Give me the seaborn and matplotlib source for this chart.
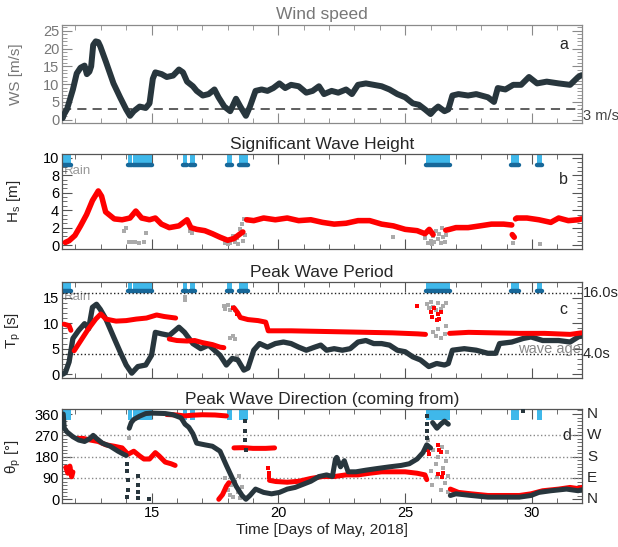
import numpy as np
import pandas as pd
import matplotlib
matplotlib.use("Agg")
import matplotlib.pyplot as plt
from matplotlib.ticker import MultipleLocator, FixedLocator, NullFormatter
import seaborn as sns

# ---------------- data (day of May 2018, value); None = gap ----------------
ws_points = [(11.5, 0.5), (11.55, 1.5), (11.67, 3.0), (11.9, 8.5), (12.05, 13), (12.2, 14.6),
             (12.36, 15.2), (12.45, 12.8), (12.55, 13.5), (12.62, 15), (12.7, 21), (12.8, 22),
             (12.9, 21.8), (12.98, 20.6), (13.2, 16.3), (13.5, 10.2), (13.76, 6.3), (14.0, 2.9),
             (14.15, 1.1), (14.3, 2.4), (14.53, 3.7), (14.77, 3.3), (14.92, 4.6), (15.05, 11.5),
             (15.15, 13.3), (15.4, 12.8), (15.6, 12), (15.85, 12.4), (16.08, 14.1), (16.24, 13.3),
             (16.4, 10.7), (16.63, 9.4), (16.78, 8.1), (17.02, 6.8), (17.25, 7.2), (17.48, 8.5),
             (17.64, 6.3), (17.87, 3.7), (18.1, 2.4), (18.33, 5.9), (18.5, 3.7), (18.72, 1.1),
             (18.88, 3.7), (19.1, 8.1), (19.34, 8.5), (19.57, 8.1), (19.8, 8.9), (20.04, 10.2),
             (20.27, 8.9), (20.5, 9.8), (20.8, 9.4), (21.1, 7.6), (21.35, 8.1), (21.6, 9.4),
             (21.8, 7.2), (22.1, 8.1), (22.36, 7.6), (22.67, 8.5), (22.9, 7.2), (23.14, 9.8),
             (23.45, 10.2), (23.76, 9.8), (24.07, 9.4), (24.38, 8.5), (24.69, 7.2), (25.0, 6.3),
             (25.3, 4.6), (25.54, 4.2), (25.78, 2.9), (26.0, 1.6), (26.16, 2.9), (26.3, 3.7),
             (26.55, 2.4), (26.7, 2.9), (26.86, 6.8), (27.1, 7.2), (27.48, 6.8), (27.8, 7.2),
             (28.26, 6.3), (28.5, 5.0), (28.65, 8.9), (28.95, 8.5), (29.26, 9.8), (29.57, 9.8),
             (29.88, 12.0), (30.2, 10.2), (30.58, 10.7), (31.05, 10.2), (31.5, 9.8), (31.82, 12.0),
             (31.95, 12.5)]

hs_points = [(11.6, 0.3), (11.75, 0.5), (11.98, 1.1), (12.2, 2.2), (12.44, 3.5), (12.67, 5.1),
             (12.9, 6.2), (13.03, 5.6), (13.19, 3.8), (13.53, 3.0), (13.84, 2.9), (14.15, 3.1),
             (14.38, 3.9), (14.61, 3.1), (14.92, 2.9), (15.15, 3.1), (15.39, 2.4), (15.7, 2.0),
             (16.08, 2.2), (16.4, 2.9), (16.55, 2.0), (16.78, 1.8), (17.1, 1.65), (17.4, 1.3),
             (17.7, 0.9), (18.0, 0.55), (18.25, 0.75), (18.5, 1.3), (18.6, 1.5), None,
             (18.75, 2.9), (19.03, 2.8), (19.42, 3.1), (19.88, 2.9), (20.35, 3.1), (20.8, 2.8),
             (21.28, 2.9), (21.74, 2.6), (22.2, 2.4), (22.67, 2.5), (23.14, 2.8), (23.6, 2.8),
             (24.07, 2.4), (24.53, 2.2), (25.0, 1.8), (25.47, 1.65), (25.78, 1.3), (25.95, 1.8),
             (26.1, 1.2), None, (26.6, 1.7), (26.75, 1.8), (27.0, 2.0), (27.48, 2.0), (27.95, 2.2),
             (28.4, 2.4), (28.88, 2.4), (29.2, 2.3), None, (29.22, 1.2), (29.3, 0.9), None,
             (29.35, 3.0), (29.4, 3.1), (29.8, 3.1), (30.27, 2.9), (30.74, 2.6), (31.05, 3.1),
             (31.43, 2.8), (31.82, 2.9), (31.95, 3.0)]

hs_flagged = [(13.9, 1.6), (14.0, 1.9), (14.1, 0.4), (14.2, 0.3), (14.35, 0.3), (14.5, 0.25),
              (14.7, 0.3), (14.8, 1.4), (16.5, 1.6), (16.6, 1.4), (17.9, 0.2), (17.95, 0.5),
              (18.0, 0.1), (18.05, 0.6), (18.1, 0.2), (18.2, 1.0), (18.3, 0.3), (18.35, 0.8),
              (18.4, 0.1), (18.5, 1.8), (18.55, 2.4), (18.6, 0.5), (18.65, 3.0), (18.7, 1.2),
              (25.8, 0.8), (25.9, 0.2), (25.95, 1.5), (26.0, 0.5), (26.05, 0.1), (26.1, 1.0),
              (26.15, 0.3), (26.2, 1.6), (26.3, 0.7), (26.35, 1.3), (26.4, 0.2), (26.45, 1.9),
              (26.5, 0.9), (26.55, 0.4), (26.6, 1.1), (29.25, 0.2), (30.3, 0.1), (24.5, 0.9)]

tp_points = [(11.55, 9.8), (11.75, 9.5), (11.82, 8.6), None,
             (11.95, 4.6), (12.2, 6.5), (12.5, 8.8), (12.8, 10.8), (13.0, 11.8), (13.2, 10.8),
             (13.6, 10.4), (14.0, 10.5), (14.4, 10.8), (14.8, 11.0), (15.0, 11.3), (15.2, 11.6),
             (15.5, 11.3), (15.8, 11.1), (15.95, 11.0), None,
             (15.7, 6.9), (16.0, 6.6), (16.4, 6.5), (16.7, 6.6), (17.0, 6.2), (17.4, 5.8),
             (17.7, 5.3), (17.85, 5.2), None,
             (18.25, 13.0), (18.4, 12.0), (18.5, 11.1), (18.8, 10.7), (19.2, 10.5), (19.5, 10.2),
             (19.6, 8.5), (19.9, 8.5), (20.5, 8.5), (21.5, 8.4), (22.5, 8.3), (23.5, 8.2),
             (24.5, 8.1), (25.5, 7.9), (25.8, 7.8), None,
             (26.75, 8.0), (27.5, 8.2), (28.5, 8.1), (29.5, 8.0), (30.5, 8.0), (31.5, 7.8),
             (31.95, 8.1)]

tp_red_scatter = [(25.45, 13.4), (26.0, 12.1), (26.05, 11.3), (26.15, 12.9), (26.25, 10.6),
                  (26.3, 11.8), (26.35, 10.8), (26.4, 12.2), (18.35, 11.8), (18.2, 13.0)]

tp_flagged = [(16.3, 15.2), (16.32, 14.6), (17.85, 13.4), (17.9, 12.8), (18.0, 13.6), (18.1, 12.5),
              (18.2, 13.1), (18.3, 12.6), (18.1, 7.0), (18.2, 7.4), (18.3, 6.8), (18.35, 3.5),
              (25.85, 13.8), (25.95, 12.9), (26.0, 14.2), (26.1, 13.2), (26.2, 12.6), (26.3, 13.9),
              (26.4, 12.8), (26.5, 13.4), (26.6, 14.0), (26.1, 8.2), (26.2, 7.4), (26.3, 8.8),
              (26.4, 7.0), (26.55, 7.8), (26.6, 9.5)]

tp_waveage = [(11.5, 0.0), (11.6, 0.3), (11.75, 2.4), (11.9, 7.0), (12.13, 8.6), (12.36, 9.9),
              (12.52, 8.9), (12.67, 13.1), (12.83, 13.7), (12.98, 12.7), (13.2, 10.8), (13.53, 7.0),
              (13.76, 4.4), (14.0, 1.8), (14.22, 0.2), (14.46, 1.5), (14.77, 1.8), (15.0, 3.7),
              (15.15, 8.2), (15.4, 7.9), (15.7, 7.6), (16.08, 9.2), (16.3, 8.2), (16.63, 6.0),
              (16.94, 5.0), (17.25, 5.7), (17.48, 4.7), (17.7, 3.7), (17.95, 1.8), (18.18, 3.1),
              (18.4, 2.8), (18.64, 0.8), (18.8, 1.2), (19.03, 4.7), (19.26, 6.0), (19.57, 5.3),
              (19.88, 6.0), (20.2, 6.3), (20.5, 6.0), (20.8, 5.3), (21.1, 4.7), (21.43, 5.3),
              (21.67, 5.7), (21.9, 4.7), (22.2, 5.0), (22.52, 4.7), (22.83, 5.0), (23.14, 6.3),
              (23.45, 6.6), (23.76, 6.0), (24.07, 6.0), (24.38, 5.7), (24.69, 4.7), (25.0, 4.4),
              (25.3, 3.4), (25.6, 2.8), (25.93, 1.5), (26.24, 2.1), (26.55, 1.8), (26.7, 2.1),
              (26.86, 4.7), (27.33, 5.0), (27.8, 4.7), (28.26, 4.1), (28.57, 4.1), (28.72, 6.0),
              (29.2, 6.3), (29.65, 7.0), (29.96, 7.3), (30.42, 6.6), (31.05, 6.6), (31.5, 6.3),
              (31.82, 7.3), (31.95, 7.5)]

dir_wind = [(11.52, 360), (11.56, 300), (11.67, 284), (11.9, 264), (12.13, 250), (12.36, 244),
            (12.55, 255), (12.7, 270), (12.83, 257), (13.06, 237), (13.37, 224), (13.68, 203),
            (13.9, 190), (14.0, 185), None,
            (14.12, 300), (14.2, 324), (14.3, 337), (14.53, 351), (14.77, 362), (15.0, 364),
            (15.55, 362), (15.85, 357), (16.16, 344), (16.24, 331), (16.32, 317), (16.47, 304),
            (16.63, 277), (16.78, 237), (17.1, 230), (17.4, 224), (17.7, 203), (17.95, 143),
            (18.18, 90), (18.33, 56), (18.57, 16), (18.72, 0), (18.88, 16), (19.1, 43),
            (19.42, 29), (19.73, 23), (20.04, 29), (20.35, 43), (20.66, 50), (20.97, 63),
            (21.28, 76), (21.6, 96), (21.9, 103), (22.13, 96), (22.25, 170), (22.3, 177),
            (22.45, 137), (22.6, 163), (22.75, 116), (23.06, 116), (23.45, 123), (23.9, 130),
            (24.38, 137), (24.84, 143), (25.16, 150), (25.47, 170), (25.7, 197), (25.85, 230),
            (26.0, 217), None,
            (26.08, 324), (26.25, 300), (26.4, 317), (26.55, 330), (26.7, 317), None,
            (26.78, 16), (27.0, 23), (27.6, 16), (28.26, 9), (28.88, 9), (29.5, 9), (29.96, 16),
            (30.27, 29), (30.74, 36), (31.36, 43), (31.82, 36), (31.95, 40)]

dir_wind_scatter = [(14.03, 150), (14.05, 120), (14.06, 80), (14.08, 40), (14.05, 10),
                    (14.45, 100), (14.46, 60), (14.47, 30), (14.48, 5), (18.68, 330),
                    (18.69, 290), (18.7, 250), (18.71, 210), (25.84, 260), (25.85, 290),
                    (25.86, 320), (25.87, 350), (14.9, 2), (29.65, 372)]

dir_peak = [(11.62, 135), (11.7, 110), (11.78, 140), (11.85, 95), (11.9, 115), None,
            (12.05, 257), (12.3, 257), (12.6, 250), (12.9, 244), (13.2, 230), (13.53, 224),
            (13.84, 217), (14.07, 190), (14.3, 203), (14.53, 183), (14.7, 170), (14.92, 170),
            (15.15, 197), (15.3, 183), (15.54, 157), (15.77, 150), (15.93, 143), None,
            (15.6, 358), (16.0, 356), (16.3, 352), (16.6, 355), (17.0, 357), (17.5, 356),
            (17.95, 352), None,
            (17.65, 0), (17.8, 20), (17.95, 55), (18.05, 70), None,
            (18.25, 217), (18.6, 218), (19.0, 215), (19.5, 215), (19.85, 217), None,
            (19.65, 80), (19.9, 75), (20.35, 72), (20.8, 76), (21.28, 88), (21.74, 96),
            (22.2, 96), (22.67, 103), (23.14, 103), (23.6, 110), (24.07, 116), (24.53, 116),
            (25.0, 116), (25.47, 110), (25.78, 103), (25.85, 83), None,
            (26.78, 43), (27.1, 29), (27.6, 23), (28.26, 16), (28.88, 16), (29.5, 16),
            (29.96, 23), (30.42, 36), (31.05, 43), (31.5, 50), (31.82, 45), (31.95, 50)]

dir_peak_scatter = [(18.2, 76), (26.3, 230), (26.35, 210), (26.4, 200), (26.45, 95), (26.5, 110),
                    (26.3, 105), (25.9, 210), (25.95, 190), (19.6, 130), (19.62, 110), (19.64, 95)]

dir_flagged = [(17.9, 90), (18.0, 40), (18.05, 120), (18.1, 20), (18.15, 60), (18.2, 10),
               (18.3, 75), (18.4, 30), (18.45, 100), (18.5, 5), (18.55, 50), (25.9, 250),
               (25.95, 190), (26.0, 120), (26.05, 60), (26.1, 210), (26.2, 150), (26.25, 95),
               (26.3, 180), (26.4, 40), (26.45, 220), (26.5, 130), (26.55, 70), (26.6, 160),
               (26.65, 200), (26.7, 100), (26.7, 30), (14.1, 260)]

rain_start = [11.51, 14.07, 14.27, 16.24, 16.52, 17.99, 18.46, 25.82, 29.16, 30.19]
rain_end = [11.82, 14.22, 15.00, 16.40, 16.71, 18.18, 18.80, 26.75, 29.50, 30.38]

dir_ticks = [0, 90, 180, 270, 360]
dir_names = ["N", "E", "S", "W", "N"]

# ---------------- style ----------------
sns.set_style("ticks")
plt.rcParams["font.family"] = ["Liberation Sans", "DejaVu Sans"]
plt.rcParams["mathtext.fontset"] = "custom"
plt.rcParams["mathtext.rm"] = "Liberation Sans"
plt.rcParams["mathtext.it"] = "Liberation Sans:italic"
plt.rcParams["mathtext.default"] = "regular"

DARK = "#28363d"
RED = "#ff0000"
GRAY = "#aaaaaa"
RAIN = "#3fb8ea"
RAIN_DARK = "#17689a"
XMIN, XMAX = 11.47, 31.97
TICK_FS = 10.5


def to_df(points):
    rows, seg = [], 0
    for p in points:
        if p is None:
            seg += 1
            continue
        rows.append((p[0], p[1], seg))
    return pd.DataFrame(rows, columns=["t", "v", "seg"])


def draw_line(ax, points, color, lw, z=3):
    df = to_df(points)
    sns.lineplot(data=df, x="t", y="v", units="seg", estimator=None, sort=False,
                 color=color, lw=lw, ax=ax, legend=False, zorder=z,
                 solid_capstyle="round", solid_joinstyle="round")


def draw_pts(ax, points, color, s=7, z=2):
    df = to_df(points)
    sns.scatterplot(data=df, x="t", y="v", color=color, s=s, marker="s",
                    linewidth=0, ax=ax, legend=False, zorder=z)


def style_axis(ax, ylim, major, minor, fg, lab):
    ax.set_xlim(XMIN, XMAX)
    ax.set_ylim(*ylim)
    ax.xaxis.set_major_locator(MultipleLocator(5))
    ax.xaxis.set_minor_locator(MultipleLocator(1))
    ax.yaxis.set_major_locator(FixedLocator(major))
    ax.yaxis.set_minor_locator(MultipleLocator(minor))
    ax.tick_params(which="both", direction="in", top=True, right=True, color=fg,
                   labelcolor=lab, labelsize=TICK_FS, pad=2)
    ax.tick_params(which="major", length=7, width=0.8)
    ax.tick_params(which="minor", length=3.5, width=0.6)
    for s in ax.spines.values():
        s.set_color(fg)
        s.set_linewidth(0.9)
    ax.set_xlabel("")


def rain(ax, bottom, top, dot_y=None):
    widths = [e - s for s, e in zip(rain_start, rain_end)]
    ax.bar(rain_start, height=top - bottom, width=widths, bottom=bottom, align="edge",
           color=RAIN, linewidth=0, zorder=1)
    if dot_y is not None:
        ax.hlines([dot_y] * len(rain_start), rain_start, rain_end, color=RAIN_DARK,
                  lw=3.2, zorder=1.5, capstyle="round")


fig = plt.figure(figsize=(6.18, 5.47), dpi=100)
L, W = 62 / 618, 520 / 618
axa = fig.add_axes([L, 1 - 123.3 / 547, W, 98.3 / 547])
axb = fig.add_axes([L, 1 - 249 / 547, W, 94.7 / 547])
axc = fig.add_axes([L, 1 - 378.3 / 547, W, 96 / 547])
axd = fig.add_axes([L, 1 - 503.3 / 547, W, 94 / 547])

TITLE_FS = 12.5
LABEL_FS = 11

# ---- panel a: wind speed ----
ga = "#8a8a8a"
draw_line(axa, ws_points, DARK, 4.3)
axa.axhline(3, ls=(0, (6, 4)), color="#333333", lw=1.1, zorder=2)
style_axis(axa, (-1.0, 26.6), [0, 5, 10, 15, 20, 25], 1, ga, "#777777")
axa.set_title("Wind speed", fontsize=TITLE_FS, color="#777777", pad=4)
axa.set_ylabel("WS [m/s]", fontsize=LABEL_FS, color="#777777")
axa.text(1.002, 1.0, "3 m/s", transform=axa.get_yaxis_transform(), fontsize=10.5,
         color="#444444", va="center", ha="left")
axa.text(0.965, 0.80, "a", transform=axa.transAxes, fontsize=11.5, ha="center", va="center")

# ---- panel b: Hs ----
rain(axb, 9.0, 10.6, 9.15)
axb.text(11.55, 8.45, "Rain", fontsize=9.5, color="#999999", va="center", zorder=0.5)
draw_pts(axb, hs_flagged, GRAY)
draw_line(axb, hs_points, RED, 4.0)
style_axis(axb, (-0.45, 10.4), [0, 2, 4, 6, 8, 10], 0.5, "#555555", "black")
axb.set_title("Significant Wave Height", fontsize=TITLE_FS, pad=4)
axb.set_ylabel("H$_s$ [m]", fontsize=LABEL_FS)
axb.text(0.965, 0.73, "b", transform=axb.transAxes, fontsize=11.5, ha="center", va="center")

# ---- panel c: Tp ----
rain(axc, 16.1, 18.5, 16.35)
axc.text(11.55, 15.1, "Rain", fontsize=9.5, color="#999999", va="center", zorder=0.5)
axc.axhline(16, ls=":", color="#222222", lw=1.0, zorder=1.6)
axc.axhline(4, ls=":", color="#222222", lw=1.0, zorder=1.6)
draw_pts(axc, tp_flagged, GRAY)
draw_line(axc, tp_waveage, DARK, 3.8)
draw_line(axc, tp_points, RED, 3.6, z=4)
draw_pts(axc, tp_red_scatter, RED, s=9, z=4)
style_axis(axc, (-0.8, 18.0), [0, 5, 10, 15], 1, "#555555", "black")
axc.set_title("Peak Wave Period", fontsize=TITLE_FS, pad=4)
axc.set_ylabel("T$_p$ [s]", fontsize=LABEL_FS)
axc.text(1.002, 16, "16.0s", transform=axc.get_yaxis_transform(), fontsize=10.5,
         va="center", ha="left")
axc.text(1.002, 4, "4.0s", transform=axc.get_yaxis_transform(), fontsize=10.5,
         va="center", ha="left")
axc.text(0.998, 4.9, "wave age", transform=axc.get_yaxis_transform(), fontsize=10.5,
         color="#888888", va="center", ha="right", zorder=5)
axc.text(0.965, 0.72, "c", transform=axc.transAxes, fontsize=11.5, ha="center", va="center")

# ---- panel d: direction ----
rain(axd, 335, 385)
for yv in [90, 180, 270]:
    axd.axhline(yv, ls=":", color="#888888", lw=1.0, zorder=1.6)
draw_pts(axd, dir_flagged, GRAY)
draw_line(axd, dir_peak, RED, 3.6)
draw_pts(axd, dir_peak_scatter, RED, s=9, z=3)
draw_line(axd, dir_wind, DARK, 3.6, z=4)
draw_pts(axd, dir_wind_scatter, DARK, s=7, z=4)
style_axis(axd, (-17, 380), dir_ticks, 15, "#555555", "black")
axd.set_title("Peak Wave Direction (coming from)", fontsize=TITLE_FS, pad=4)
axd.set_ylabel("θ$_p$ [°]", fontsize=LABEL_FS)
axd.set_xlabel("Time [Days of May, 2018]", fontsize=LABEL_FS, labelpad=2)
for yv, nm in zip(dir_ticks, dir_names):
    axd.text(1.01, yv, nm, transform=axd.get_yaxis_transform(), fontsize=11,
             va="center", ha="left")
axd.text(0.97, 270, "d", transform=axd.get_yaxis_transform(), fontsize=11.5,
         ha="center", va="center", zorder=5)

for ax in (axa, axb, axc):
    ax.xaxis.set_major_formatter(NullFormatter())
for ax in (axa, axb, axc, axd):
    ax.yaxis.set_label_coords(-0.075, 0.5)

fig.savefig("out.png", dpi=100)
